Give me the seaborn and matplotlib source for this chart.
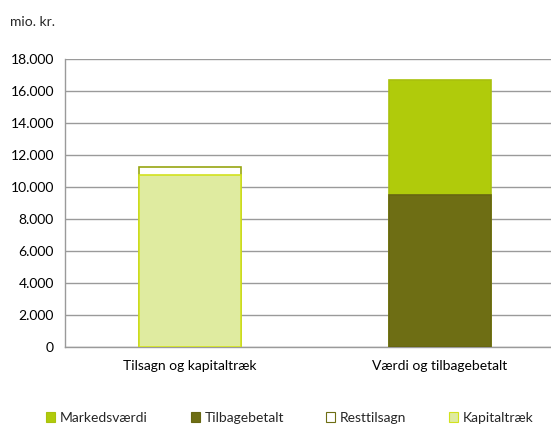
import matplotlib
matplotlib.use("Agg")
import matplotlib.pyplot as plt
import matplotlib.ticker as mticker
from matplotlib.patches import Patch
import pandas as pd
import seaborn as sns

# data (mio. kr.)
categories = ["Tilsagn og kapitaltræk", "Værdi og tilbagebetalt"]
series = ["Kapitaltræk", "Resttilsagn", "Tilbagebetalt", "Markedsværdi"]
series_cat = ["Tilsagn og kapitaltræk", "Tilsagn og kapitaltræk",
              "Værdi og tilbagebetalt", "Værdi og tilbagebetalt"]
values = [10750, 480, 9500, 7190]
legend_order = ["Markedsværdi", "Tilbagebetalt", "Resttilsagn", "Kapitaltræk"]
yticks = list(range(0, 18001, 2000))

colors = {"Markedsværdi": "#b0cb0b", "Tilbagebetalt": "#6e6e14",
          "Resttilsagn": "#ffffff", "Kapitaltræk": "#dfeba0"}
edges = {"Markedsværdi": "#a9c10d", "Tilbagebetalt": "#666612",
         "Resttilsagn": "#97a612", "Kapitaltræk": "#d2e21e"}

df = pd.DataFrame({"category": series_cat, "series": series, "value": values})
# cumulative height within each category (stack bottom-up in list order)
df["top"] = df.groupby("category")["value"].cumsum()

sns.set_style("white")
plt.rcParams["font.family"] = ["Lato", "DejaVu Sans"]
plt.rcParams["font.size"] = 10

fig = plt.figure(figsize=(5.51, 4.26), dpi=100)
# plot area runs on past the right edge in the original (cropped)
ax = fig.add_axes([65 / 551, 79 / 426, 486 / 551, 288 / 426])

# draw tallest segments first so lower ones overlay them
for s in df.sort_values("top", ascending=False)["series"]:
    sub = df[df["series"] == s]
    sns.barplot(data=sub, x="category", y="top", order=categories, ax=ax,
                color=colors[s], edgecolor=edges[s], linewidth=1.2,
                width=0.405, saturation=1, zorder=3)

ax.set_ylim(0, 18000)
ax.set_xlim(-0.5, -0.5 + 486 / 250)
ax.set_yticks(yticks)
ax.yaxis.set_major_formatter(mticker.FuncFormatter(lambda v, p: f"{int(v):,}".replace(",", ".")))
ax.yaxis.grid(True, color="#9a9a9a", linewidth=1)
ax.set_axisbelow(True)
ax.set_xlabel("")
ax.set_ylabel("")

# category boundary ticks, labels centred
ax.set_xticks([-0.5, 0.5])
ax.set_xticklabels([])
ax.set_xticks([0, 1], minor=True)
ax.set_xticklabels(categories, minor=True)
ax.tick_params(axis="x", which="minor", length=0, pad=9)
ax.tick_params(axis="x", which="major", length=5, direction="out")
ax.tick_params(axis="y", length=5, direction="out", pad=3)
ax.tick_params(axis="both", which="both", color="#9a9a9a", labelcolor="black")
ax.spines["top"].set_visible(False)
ax.spines["right"].set_visible(False)
for side in ["left", "bottom"]:
    ax.spines[side].set_color("#9a9a9a")
    ax.spines[side].set_linewidth(1)

fig.text(10 / 551, 1 - 22 / 426, "mio. kr.", ha="left", va="center", fontsize=10)

# one legend entry per slot, as spaced in the original
legend_x = [40, 185, 320, 443]
for s, lx in zip(legend_order, legend_x):
    h = Patch(facecolor=colors[s], edgecolor=edges[s] if s != "Resttilsagn" else "#6e6e14",
              linewidth=0.8)
    fig.legend([h], [s], loc="center left", bbox_to_anchor=(lx / 551, 1 - 418 / 426),
               frameon=False, handlelength=0.7, handleheight=0.7, handletextpad=0.3,
               fontsize=10, borderaxespad=0)

fig.savefig("out.png", dpi=100)
